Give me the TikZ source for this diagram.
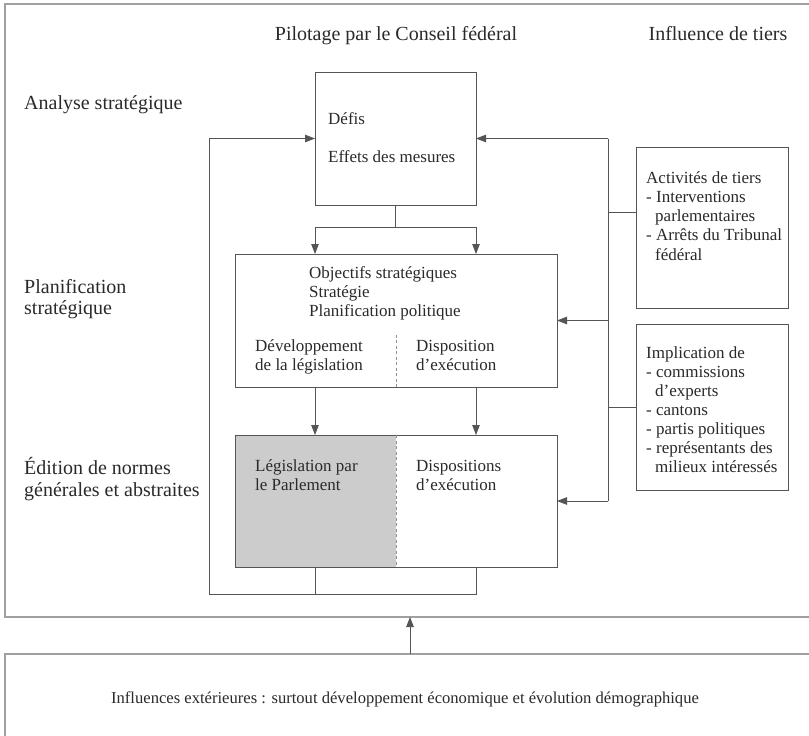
\documentclass[tikz,border=0pt]{standalone}
\usepackage{fontspec}
\setmainfont{Liberation Serif}
\usetikzlibrary{arrows.meta,calc}
\definecolor{linec}{HTML}{555555}
\definecolor{framec}{HTML}{A0A0A0}
\definecolor{txtc}{HTML}{2A2A2A}
\definecolor{fillc}{HTML}{CCCCCC}
\definecolor{dashc}{HTML}{909090}
\tikzset{
  box/.style={draw=linec, line width=0.9pt, inner sep=0pt, outer sep=0pt, anchor=north west},
  conn/.style={draw=linec, line width=0.9pt},
  arr/.style={-{Triangle[length=10pt,width=7.5pt]}},
  frameline/.style={draw=framec, line width=1.3pt},
  divider/.style={draw=dashc, line width=0.9pt, dash pattern=on 3pt off 2.5pt},
  bt/.style={font=\fontsize{17}{19}\selectfont, text=txtc, inner sep=0pt, anchor=base west},
  ht/.style={font=\fontsize{20}{22}\selectfont, text=txtc, inner sep=0pt, anchor=base west},
}
\begin{document}
\begin{tikzpicture}[x=1pt,y=-1pt]
\useasboundingbox (0,0) rectangle (809,736);
\fill[white] (0,0) rectangle (809,736);
% outer frames
\draw[frameline] (812,4) -- (5,4) -- (5,617) -- (812,617);
\draw[frameline] (812,654) -- (5,654) -- (5,740);
% grey half
\fill[fillc] (235,435) rectangle (396,567);
% boxes
\node[box, minimum width=161pt, minimum height=133pt] (defis) at (315,72) {};
\node[box, minimum width=322pt, minimum height=133pt] (plan) at (235,254) {};
\node[box, minimum width=322pt, minimum height=132pt] (edit) at (235,435) {};
\node[box, minimum width=152pt, minimum height=161pt] (act) at (636,147) {};
\node[box, minimum width=152pt, minimum height=166pt] (impl) at (636,324) {};
% dividers
\draw[divider] (plan.south) -- ++(0,-52);
\draw[divider] (edit.north) -- (edit.south);
% headers
\node[ht, anchor=base] (h1) at (396,40) {Pilotage par le Conseil fédéral};
\node[ht, anchor=base] (h2) at (718,40) {Influence de tiers};
\node[ht] (l1) at (24,109) {Analyse stratégique};
\node[ht] (l2a) at (24,293) {Planification};
\node[ht] (l2b) at (24,314) {stratégique};
\node[ht] (l3a) at (24,474) {Édition de normes};
\node[ht] (l3b) at (24,496) {générales et abstraites};
% box texts
\node[bt] (d1) at (328,124) {Défis};
\node[bt] (d2) at (328,162) {Effets des mesures};
\node[bt] (p1) at (309,278) {Objectifs stratégiques};
\node[bt] (p2) at (309,297) {Stratégie};
\node[bt] (p3) at (309,316) {Planification politique};
\node[bt] (p4) at (255,351) {Développement};
\node[bt] (p5) at (255,370) {de la législation};
\node[bt] (p6) at (416,351) {Disposition};
\node[bt] (p7) at (416,370) {d’exécution};
\node[bt] (e1) at (255,471) {Législation par};
\node[bt] (e2) at (255,490) {le Parlement};
\node[bt] (e3) at (416,471) {Dispositions};
\node[bt] (e4) at (416,490) {d’exécution};
\node[bt] (a1t) at (646,183) {Activités de tiers};
\node[bt] (a2t) at (646,202) {- Interventions};
\node[bt] (a3t) at (655,221) {parlementaires};
\node[bt] (a4t) at (646,240) {- Arrêts du Tribunal};
\node[bt] (a5t) at (655,260) {fédéral};
\node[bt] (i1) at (646,358) {Implication de};
\node[bt] (i2) at (646,377) {- commissions};
\node[bt] (i3) at (655,396) {d’experts};
\node[bt] (i4) at (646,415) {- cantons};
\node[bt] (i5) at (646,434) {- partis politiques};
\node[bt] (i6) at (646,453) {- représentants des};
\node[bt] (i7) at (655,472) {milieux intéressés};
\node[bt, anchor=base, font=\fontsize{16.6}{19}\selectfont] (bt1) at (405,703) {Influences extérieures : surtout développement économique et évolution démographique};
% connectors
\coordinate (sl) at (315,227);
\coordinate (sr) at (476,227);
\draw[conn] (defis.south) -- (defis.south |- sl);
\draw[conn] (sl) -- (sr);
\draw[conn,arr] (sl) -- (sl |- plan.north);
\draw[conn,arr] (sr) -- (sr |- plan.north);
\draw[conn,arr] (plan.south -| sl) -- (edit.north -| sl);
\draw[conn,arr] (plan.south -| sr) -- (edit.north -| sr);
\coordinate (lb) at (209,594);
\draw[conn] (edit.south -| sl) -- (sl |- lb);
\draw[conn,arr] (edit.south -| sr) |- (lb) |- (defis.west);
\coordinate (rx) at (608,0);
\draw[conn,arr] (defis.east -| rx) -- (defis.east);
\draw[conn] (defis.east -| rx) -- (edit.east -| rx);
\draw[conn,arr] (plan.east -| rx) -- (plan.east);
\draw[conn,arr] (edit.east -| rx) -- (edit.east);
\coordinate (ac) at (636,212);
\draw[conn] (ac) -- (ac -| rx);
\draw[conn] (impl.west) -- (impl.west -| rx);
\coordinate (inb) at (410,654);
\coordinate (outb) at (410,617);
\draw[conn,arr] (inb) -- (outb);
\end{tikzpicture}
\end{document}
